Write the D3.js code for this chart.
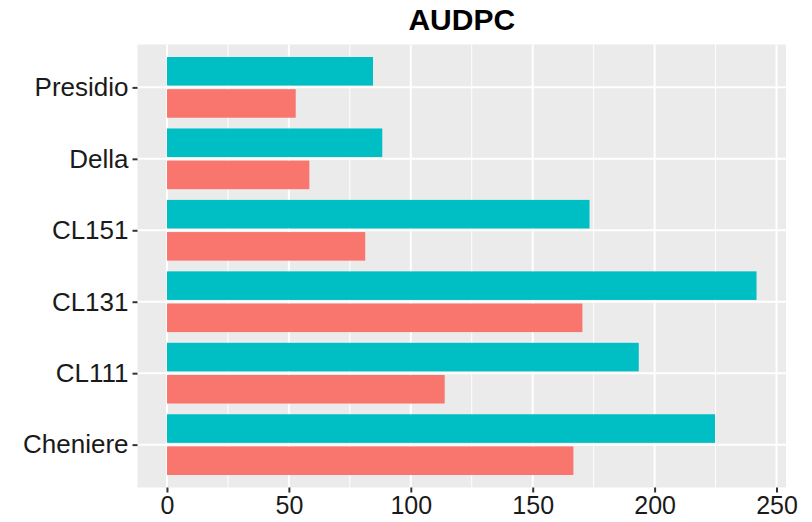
<!DOCTYPE html>
<html><head><meta charset="utf-8">
<script src="https://cdn.jsdelivr.net/npm/d3@7"></script>
<style>body{margin:0;background:#fff;} text{font-family:"Liberation Sans",Arial,sans-serif;}</style>
</head><body><svg id="c" width="812" height="522"></svg>
<script>
const categories = ["Presidio","Della","CL151","CL131","CL111","Cheniere"];
const seriesNames = ["A","B"];
const tealValues = [84.5, 88.3, 173.3, 241.8, 193.5, 224.8];
const redValues  = [52.8, 58.4, 81.3, 170.4, 113.9, 166.7];
const xTicks = [0, 50, 100, 150, 200, 250];
const xMinor = [25, 75, 125, 175, 225];
const colors = {A:"#00BFC4", B:"#F8766D"};

const svg = d3.select("#c");
const L = 137.5, R = 786, T = 44.5, B = 487.5;
const maxV = d3.max(tealValues.concat(redValues));
const x = d3.scaleLinear().domain([-0.05*maxV, 1.05*maxV]).range([L, R]);
const y = d3.scalePoint().domain(categories).range([T, B]).padding(0.6);
const step = y.step();

svg.append("rect").attr("x",L).attr("y",T).attr("width",R-L).attr("height",B-T).attr("fill","#EBEBEB");
const g = svg.append("g");
xMinor.forEach(v=>g.append("line").attr("x1",x(v)).attr("x2",x(v)).attr("y1",T).attr("y2",B).attr("stroke","#fff").attr("stroke-width",1));
xTicks.forEach(v=>g.append("line").attr("x1",x(v)).attr("x2",x(v)).attr("y1",T).attr("y2",B).attr("stroke","#fff").attr("stroke-width",2));
categories.forEach(c=>g.append("line").attr("x1",L).attr("x2",R).attr("y1",y(c)).attr("y2",y(c)).attr("stroke","#fff").attr("stroke-width",2));

const data = [];
categories.forEach((c,i)=>{
  data.push({c, s:"A", v:tealValues[i], off:-0.225});
  data.push({c, s:"B", v:redValues[i], off:0.225});
});
svg.append("g").selectAll("rect").data(data).join("rect")
  .attr("x", x(0)).attr("width", d=>x(d.v)-x(0))
  .attr("y", d=>y(d.c)+d.off*step-0.2*step).attr("height", 0.4*step)
  .attr("fill", d=>colors[d.s]);

// y axis
const ya = svg.append("g").attr("transform",`translate(${L},0)`).call(d3.axisLeft(y).tickSize(5).tickPadding(4));
ya.select(".domain").remove();
ya.selectAll("line").attr("stroke","#333").attr("stroke-width",2);
ya.selectAll("text").attr("font-size",26).attr("fill","#1a1a1a").attr("font-family","Liberation Sans, Arial, sans-serif");
// x axis
const xa = svg.append("g").attr("transform",`translate(0,${B})`).call(d3.axisBottom(x).tickValues(xTicks).tickSize(5).tickPadding(4));
xa.select(".domain").remove();
xa.selectAll("line").attr("stroke","#333").attr("stroke-width",2);
xa.selectAll("text").attr("font-size",25).attr("fill","#1a1a1a").attr("font-family","Liberation Sans, Arial, sans-serif");

svg.append("text").attr("x",(L+R)/2).attr("y",30).attr("text-anchor","middle")
  .attr("font-size",30).attr("font-weight","bold").attr("fill","#000").text("AUDPC");
</script></body></html>
